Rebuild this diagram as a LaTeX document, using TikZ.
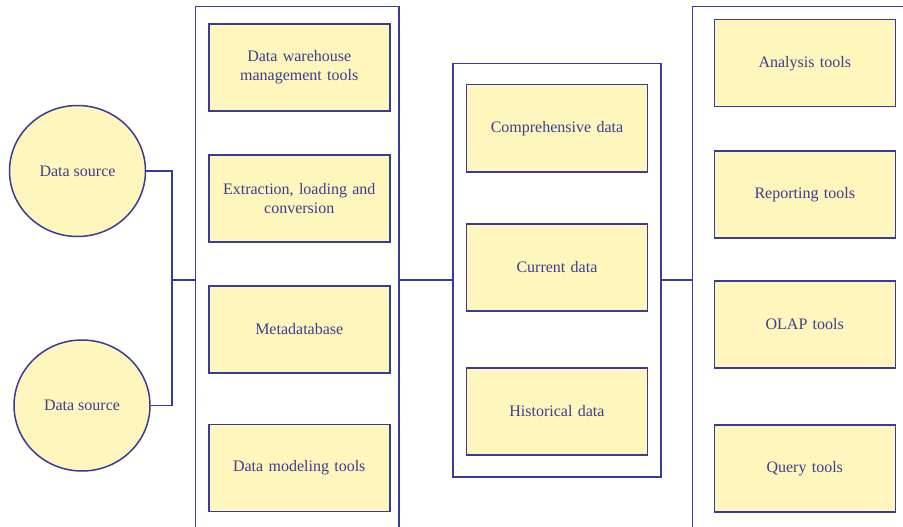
\documentclass[tikz,border=0pt]{standalone}
\usepackage{fontspec}
\setmainfont{Liberation Serif}
\usetikzlibrary{shapes.geometric}
\definecolor{edgeblue}{HTML}{3A3A98}
\definecolor{textblue}{HTML}{3E3E8E}
\definecolor{paleyellow}{HTML}{FEF6BD}
\tikzset{
  every node/.style={font=\fontsize{16}{19}\selectfont, text=textblue},
  frame/.style={draw=edgeblue, line width=1.5pt, fill=white, anchor=north west, inner sep=0pt},
  item/.style={draw=edgeblue, line width=1.5pt, fill=paleyellow, anchor=north west,
               minimum width=181pt, minimum height=87pt, inner sep=2pt,
               align=center, text width=174pt},
  source/.style={ellipse, draw=edgeblue, line width=1.5pt, fill=paleyellow,
                 minimum width=136pt, minimum height=131pt, inner sep=0pt},
  link/.style={draw=edgeblue, line width=1.5pt}
}
\begin{document}
\begin{tikzpicture}[x=1pt, y=-1pt]
\useasboundingbox (0,0) rectangle (903,527);
\clip (0,0) rectangle (903,527);

% data sources
\node[source] (ds1) at (77.5,171) {Data source};
\node[source] (ds2) at (82,405.5) {Data source};

% three column frames (they run past the lower and right margins)
\node[frame, minimum width=203.6pt, minimum height=540pt] (L) at (194.7,5.7) {};
\node[frame, minimum width=207.7pt, minimum height=413pt] (M) at (452.3,63) {};
\node[frame, minimum width=230pt, minimum height=540pt] (R) at (691.7,5.7) {};

% warehouse tools column
\node[item] (l1) at (208,23.3) {Data warehouse\\management tools};
\node[item] (l2) at (208,154) {Extraction, loading and\\conversion};
\node[item] (l3) at (208,285) {Metadatabase};
\node[item] (l4) at (208,423.5) {Data modeling tools};

% data column
\node[item] (m1) at (465.7,84) {Comprehensive data};
\node[item] (m2) at (465.7,223) {Current data};
\node[item] (m3) at (465.7,367) {Historical data};

% front-end tools column
\node[item] (r1) at (713.5,19) {Analysis tools};
\node[item] (r2) at (713.5,150) {Reporting tools};
\node[item] (r3) at (713.5,280) {OLAP tools};
\node[item] (r4) at (713.5,424) {Query tools};

% connectors
\coordinate (j) at (172,280);
\draw[link] (ds1.east) -| (j) |- (ds2.east);
\draw[link] (j) -- (j -| L.west);
\draw[link] (L.east |- j) -- (M.west |- j);
\draw[link] (M.east |- j) -- (R.west |- j);
\end{tikzpicture}
\end{document}
